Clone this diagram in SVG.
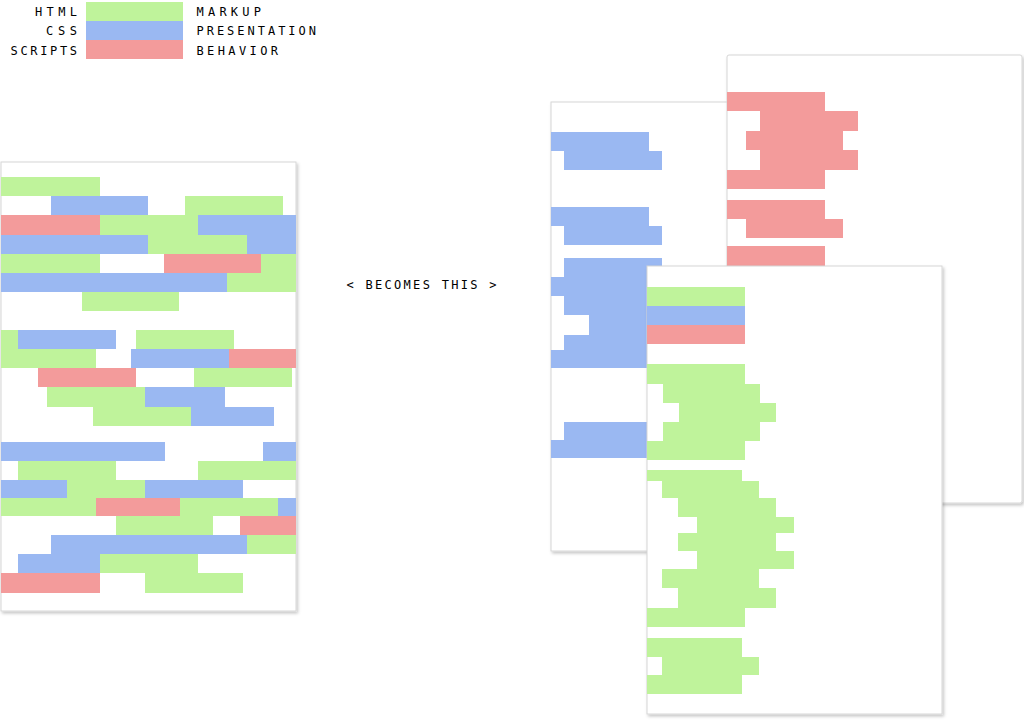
<svg xmlns="http://www.w3.org/2000/svg" width="1024" height="720" viewBox="0 0 1024 720">
<style>
.g{fill:#bff39b}
.b{fill:#9ab8f2}
.r{fill:#f39b9b}
.bars{shape-rendering:crispEdges}
.page{fill:#fff;stroke:#d6d6d6;stroke-width:1}
.t{font-family:"DejaVu Sans Mono","Liberation Mono",monospace;font-size:12px;fill:#000}
</style>
<defs>
<filter id="sh" x="-5%" y="-5%" width="115%" height="115%">
<feDropShadow dx="1.5" dy="2" stdDeviation="1.5" flood-color="#000" flood-opacity="0.22"/>
</filter>
<clipPath id="cL"><rect x="1" y="162" width="295" height="449"/></clipPath>
<clipPath id="cB"><rect x="551" y="102" width="295" height="449"/></clipPath>
<clipPath id="cR"><rect x="727" y="55" width="295" height="448"/></clipPath>
<clipPath id="cG"><rect x="647" y="266" width="295" height="448"/></clipPath>
</defs>
<rect width="1024" height="720" fill="#fff"/>

<g id="legend">
<g class="bars">
<rect class="g" x="86" y="2" width="97" height="19"/>
<rect class="b" x="86" y="21" width="97" height="19"/>
<rect class="r" x="86" y="40" width="97" height="19"/>
</g>
<text class="t" x="35" y="15.5" textLength="42" lengthAdjust="spacing">HTML</text>
<text class="t" x="46" y="35" textLength="31" lengthAdjust="spacing">CSS</text>
<text class="t" x="10.5" y="54.5" textLength="66.5" lengthAdjust="spacing">SCRIPTS</text>
<text class="t" x="196.5" y="15.5" textLength="64.5" lengthAdjust="spacing">MARKUP</text>
<text class="t" x="196.5" y="35" textLength="119.5" lengthAdjust="spacing">PRESENTATION</text>
<text class="t" x="196.5" y="54.5" textLength="81.5" lengthAdjust="spacing">BEHAVIOR</text>
</g>

<g id="left-page">
<rect class="page" x="1" y="162" width="295" height="449" filter="url(#sh)"/>
<g clip-path="url(#cL)" class="bars">
<rect class="g" x="0" y="177" width="100" height="19"/>
<rect class="b" x="51" y="196" width="97" height="19"/>
<rect class="g" x="185" y="196" width="98" height="19"/>
<rect class="r" x="0" y="215" width="100" height="20"/>
<rect class="g" x="100" y="215" width="98" height="20"/>
<rect class="b" x="198" y="215" width="99" height="20"/>
<rect class="b" x="0" y="235" width="148" height="19"/>
<rect class="g" x="148" y="235" width="99" height="19"/>
<rect class="b" x="247" y="235" width="50" height="19"/>
<rect class="g" x="0" y="254" width="100" height="19"/>
<rect class="r" x="164" y="254" width="97" height="19"/>
<rect class="g" x="261" y="254" width="36" height="19"/>
<rect class="b" x="0" y="273" width="227" height="19"/>
<rect class="g" x="227" y="273" width="70" height="19"/>
<rect class="g" x="82" y="292" width="97" height="19"/>
<rect class="g" x="0" y="330" width="18" height="19"/>
<rect class="b" x="18" y="330" width="98" height="19"/>
<rect class="g" x="136" y="330" width="98" height="19"/>
<rect class="g" x="0" y="349" width="96" height="19"/>
<rect class="b" x="131" y="349" width="98" height="19"/>
<rect class="r" x="229" y="349" width="68" height="19"/>
<rect class="r" x="38" y="368" width="98" height="19"/>
<rect class="g" x="194" y="368" width="98" height="19"/>
<rect class="g" x="47" y="387" width="98" height="20"/>
<rect class="b" x="145" y="387" width="80" height="20"/>
<rect class="g" x="93" y="407" width="98" height="19"/>
<rect class="b" x="191" y="407" width="83" height="19"/>
<rect class="b" x="0" y="442" width="165" height="19"/>
<rect class="b" x="263" y="442" width="34" height="19"/>
<rect class="g" x="18" y="461" width="98" height="19"/>
<rect class="g" x="198" y="461" width="99" height="19"/>
<rect class="b" x="0" y="480" width="67" height="18"/>
<rect class="g" x="67" y="480" width="78" height="18"/>
<rect class="b" x="145" y="480" width="98" height="18"/>
<rect class="g" x="0" y="498" width="96" height="18"/>
<rect class="r" x="96" y="498" width="84" height="18"/>
<rect class="g" x="180" y="498" width="98" height="18"/>
<rect class="b" x="278" y="498" width="19" height="18"/>
<rect class="g" x="116" y="516" width="97" height="19"/>
<rect class="r" x="240" y="516" width="57" height="19"/>
<rect class="b" x="51" y="535" width="196" height="19"/>
<rect class="g" x="247" y="535" width="50" height="19"/>
<rect class="b" x="18" y="554" width="82" height="19"/>
<rect class="g" x="100" y="554" width="98" height="19"/>
<rect class="r" x="0" y="573" width="100" height="20"/>
<rect class="g" x="145" y="573" width="98" height="20"/>
</g>
</g>

<g id="becomes-label">
<text class="t" x="346.5" y="288.5" textLength="150" lengthAdjust="spacing">&lt; BECOMES THIS &gt;</text>
</g>

<g id="presentation-page">
<rect class="page" x="551" y="102" width="295" height="449" filter="url(#sh)"/>
<g clip-path="url(#cB)" class="bars">
<rect class="b" x="551" y="132" width="98" height="19"/>
<rect class="b" x="564" y="151" width="98" height="19"/>
<rect class="b" x="551" y="207" width="98" height="19"/>
<rect class="b" x="564" y="226" width="98" height="19"/>
<rect class="b" x="564" y="258" width="98" height="19"/>
<rect class="b" x="551" y="277" width="98" height="19"/>
<rect class="b" x="564" y="296" width="98" height="19"/>
<rect class="b" x="589" y="315" width="98" height="20"/>
<rect class="b" x="564" y="335" width="98" height="15"/>
<rect class="b" x="551" y="350" width="98" height="18"/>
<rect class="b" x="564" y="422" width="98" height="18"/>
<rect class="b" x="551" y="440" width="98" height="18"/>
</g>
</g>

<g id="behavior-page">
<rect class="page" x="727" y="55" width="295" height="448" rx="2" filter="url(#sh)"/>
<g clip-path="url(#cR)" class="bars">
<rect class="r" x="727" y="92" width="98" height="19"/>
<rect class="r" x="760" y="111" width="98" height="20"/>
<rect class="r" x="746" y="131" width="97" height="19"/>
<rect class="r" x="760" y="150" width="98" height="20"/>
<rect class="r" x="727" y="170" width="98" height="19"/>
<rect class="r" x="727" y="200" width="98" height="19"/>
<rect class="r" x="746" y="219" width="97" height="19"/>
<rect class="r" x="727" y="246" width="98" height="25"/>
</g>
</g>

<g id="markup-page">
<rect class="page" x="647" y="266" width="295" height="448" filter="url(#sh)"/>
<g clip-path="url(#cG)" class="bars">
<rect class="g" x="647" y="287" width="98" height="19"/>
<rect class="b" x="647" y="306" width="98" height="19"/>
<rect class="r" x="647" y="325" width="98" height="19"/>
<rect class="g" x="647" y="364" width="98" height="20"/>
<rect class="g" x="663" y="384" width="97" height="19"/>
<rect class="g" x="679" y="403" width="97" height="19"/>
<rect class="g" x="663" y="422" width="97" height="19"/>
<rect class="g" x="647" y="441" width="98" height="19"/>
<rect class="g" x="647" y="470" width="95" height="11"/>
<rect class="g" x="662" y="481" width="97" height="17"/>
<rect class="g" x="678" y="498" width="98" height="19"/>
<rect class="g" x="697" y="517" width="97" height="16"/>
<rect class="g" x="678" y="533" width="98" height="18"/>
<rect class="g" x="697" y="551" width="97" height="18"/>
<rect class="g" x="662" y="569" width="97" height="19"/>
<rect class="g" x="678" y="588" width="98" height="20"/>
<rect class="g" x="647" y="608" width="98" height="19"/>
<rect class="g" x="647" y="638" width="95" height="19"/>
<rect class="g" x="662" y="657" width="97" height="18"/>
<rect class="g" x="647" y="675" width="95" height="19"/>
</g>
</g>

<g id="connectors"/>
</svg>
